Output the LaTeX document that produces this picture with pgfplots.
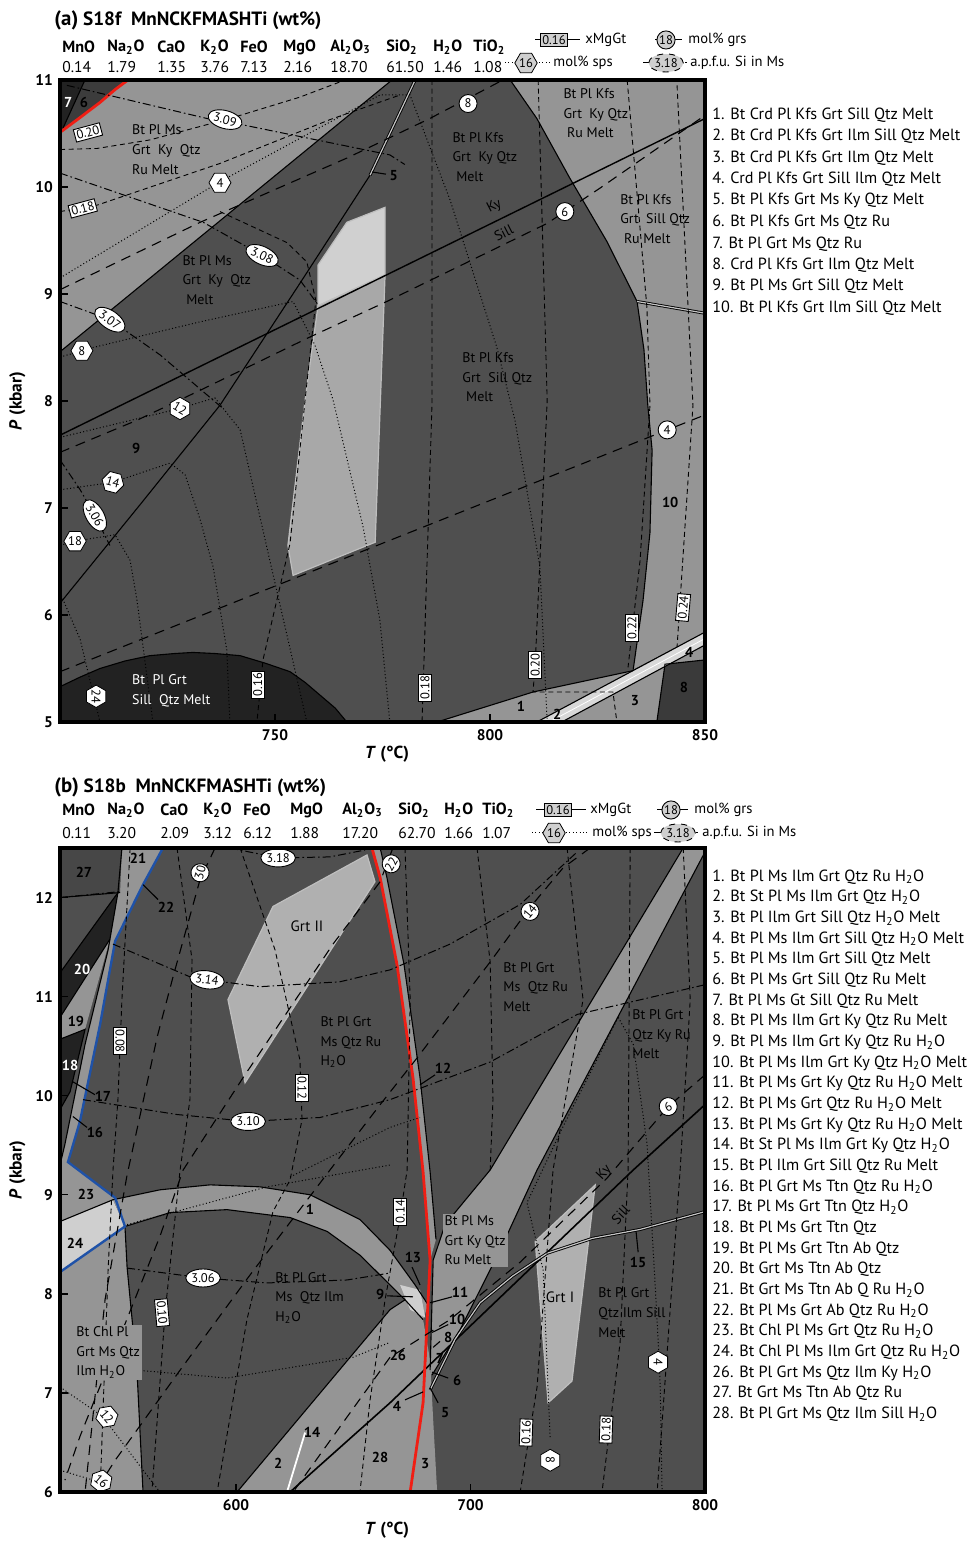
\documentclass[border=0pt]{standalone}
\usepackage{pgfplots}
\pgfplotsset{compat=1.18}
\usepackage{fontspec}
\setmainfont{PT Sans}
\usetikzlibrary{shapes.geometric}
\definecolor{bgd}{HTML}{4F4F4F}
\definecolor{lg}{HTML}{959595}
\definecolor{dk}{HTML}{222222}
\definecolor{r6}{HTML}{3C3C3C}
\definecolor{r8}{HTML}{3A3A3A}
\definecolor{bandc}{HTML}{D8D8D8}
\definecolor{pl1}{HTML}{D0D0D0}
\definecolor{pl2}{HTML}{A8A8A8}
\definecolor{pedge}{HTML}{BEBEBE}
\definecolor{vl}{HTML}{CFCFCF}
\definecolor{grt}{HTML}{B0B0B0}
\definecolor{r27}{HTML}{474747}
\definecolor{dblc}{HTML}{C4C4C4}
\definecolor{myblue}{HTML}{1F52A8}
\definecolor{myred}{HTML}{F01E14}
\tikzset{
 reg/.style={fill=#1, draw=none},
 bd/.style={black, line width=0.55pt},
 dbl/.style={draw=black, line width=0.45pt, double=dblc, double distance=0.6pt},
 xl/.style={black, line width=0.45pt, dash pattern=on 2.5pt off 1.8pt},
 gl/.style={black, line width=0.55pt, dash pattern=on 5pt off 3.5pt},
 sl/.style={black, line width=0.5pt, dash pattern=on 0.5pt off 1.2pt},
 ml/.style={black, line width=0.5pt, dash pattern=on 4pt off 1.5pt on 0.8pt off 1.5pt},
 xmg/.style={draw=black, fill=white, rectangle, inner sep=0.9pt, line width=0.45pt, font=\fontsize{6.3}{6.3}\selectfont},
 grs/.style={draw=black, fill=white, circle, inner sep=0.3pt, minimum size=9pt, line width=0.45pt, font=\fontsize{6.3}{6.3}\selectfont},
 sps/.style={draw=black, fill=white, regular polygon, regular polygon sides=6, inner sep=0pt, minimum size=11pt, line width=0.4pt, font=\fontsize{6.3}{6.3}\selectfont},
 msi/.style={draw=black, fill=white, ellipse, inner sep=0.3pt, minimum width=17pt, minimum height=9pt, line width=0.45pt, font=\fontsize{6.3}{6.3}\selectfont},
 rl/.style={font=\fontsize{7}{9.8}\selectfont, align=left, anchor=west, inner sep=0pt},
 num/.style={font=\bfseries\fontsize{7.2}{8}\selectfont, inner sep=0pt},
 li/.style={anchor=west, inner sep=0pt, font=\fontsize{8.1}{9}\selectfont},
 hd/.style={anchor=west, inner sep=0pt, font=\fontsize{7.8}{8}\selectfont},
 lt/.style={anchor=west, inner sep=0pt, font=\fontsize{7.3}{8}\selectfont},
}
\pgfplotsset{pd/.style={scale only axis, width=322.5pt, tick align=inside, major tick length=4pt,
 tick style={black, line width=0.7pt}, axis line style={line width=1.6pt},
 axis background/.style={fill=bgd}, clip mode=individual, axis on top, tick pos=left,
 /pgf/number format/assume math mode=true,
 tick label style={font=\bfseries\fontsize{7.7}{8}\selectfont},
 label style={font=\bfseries\fontsize{8.7}{9}\selectfont}}}
\begin{document}
\begin{tikzpicture}
\path[use as bounding box] (0,0) rectangle (486.5pt,770.5pt);
%================ PANEL A
\begin{axis}[pd, at={(30pt,409.5pt)}, anchor=south west, height=321pt,
 xmin=700, xmax=850, ymin=5, ymax=11, xtick={750,800,850}, ytick={5,6,7,8,9,10,11},
 xlabel={\textit{T} (°C)}, ylabel={\textit{P} (kbar)},
 xlabel style={at={(axis description cs:0.507,-0.05)}, anchor=center},
 ylabel style={at={(axis description cs:-0.066,0.5)}, anchor=center}]
% fills
\addplot[reg=lg] coordinates {(700,8.46) (777.2,11) (715.8,11) (712.8,10.91) (709.3,10.79) (704.7,10.65) (700,10.51)} -- cycle;
\addplot[reg=r6] coordinates {(700,10.51) (704.7,10.65) (709.3,10.79) (712.8,10.91) (715.8,11) (700,11)} -- cycle;
\addplot[reg=dk] coordinates {(700,11) (705.8,11) (700.7,10.55) (700,10.53)} -- cycle;
\addplot[reg=lg] coordinates {(804.7,11) (810.9,10.64) (818.6,10.08) (827.2,9.49) (834.2,8.93) (850,8.82) (850,11)} -- cycle;
\addplot[reg=lg] coordinates {(834.2,8.93) (850,8.82) (850,5.84) (833.3,5.49) (835.6,6.14) (837.2,6.77) (837.7,7.54) (836.7,7.96) (835.8,8.48)} -- cycle;
\addplot[reg=lg] coordinates {(787.7,5) (810.0,5.28) (833.3,5.48) (810.9,5)} -- cycle;
\addplot[reg=lg] coordinates {(816.7,5) (840.7,5.54) (838.8,5)} -- cycle;
\addplot[reg=lg] coordinates {(840.7,5.54) (850,5.72) (850,5.58)} -- cycle;
\addplot[reg=r8] coordinates {(840.7,5.54) (850,5.58) (850,5) (838.8,5)} -- cycle;
\addplot[reg=bandc] coordinates {(810.9,5) (850,5.84) (850,5.72) (816.7,5)} -- cycle;
\addplot[fill=dk, draw=black, line width=0.55pt] coordinates {(700,5.33) (704.7,5.42) (709.3,5.50) (715.1,5.57) (720.9,5.62) (726.7,5.64) (730.9,5.65) (736.0,5.64) (741.9,5.62) (747.7,5.55) (753.5,5.47) (757.0,5.37) (760.5,5.25) (764.0,5.13) (766.7,5) (700,5)} -- cycle;
\addplot[fill=pl1, draw=pedge, line width=0.6pt] coordinates {(760.0,9.27) (766.7,9.67) (775.6,9.81) (775.6,9.18) (760.0,8.89)} -- cycle;
\addplot[fill=pl2, draw=pedge, line width=0.6pt] coordinates {(760.0,8.89) (775.6,9.18) (773.3,6.68) (754.2,6.37) (753.0,6.65) (757.0,8.01)} -- cycle;
% boundaries
\addplot[bd] coordinates {(700,8.46) (777.2,11)};
\addplot[bd] coordinates {(700.7,10.55) (705.8,11)};
\addplot[myred, line width=1.4pt] coordinates {(700,10.51) (704.7,10.65) (709.3,10.79) (712.8,10.91) (715.8,11)};
\addplot[bd] coordinates {(804.7,11) (810.9,10.64) (818.6,10.08) (827.2,9.49) (834.2,8.93) (835.8,8.48) (836.7,7.96) (837.7,7.54) (837.2,6.77) (835.6,6.14) (833.3,5.49)};
\addplot[dbl] coordinates {(834.2,8.93) (850,8.82)};
\addplot[bd] coordinates {(787.7,5) (810.0,5.28) (833.3,5.48)};
\addplot[bd] coordinates {(810.9,5) (850,5.84)};
\addplot[bd] coordinates {(816.7,5) (850,5.72)};
\addplot[white, line width=0.4pt] coordinates {(813.8,5) (850,5.78)};
\addplot[bd] coordinates {(838.8,5) (840.7,5.54) (850,5.58)};
\addplot[dbl] coordinates {(782.6,11) (772.1,10.11)};
\addplot[bd] coordinates {(772.1,10.11) (755.8,9.10) (737.2,7.96) (718.6,7.03) (700,6.11)};
\addplot[bd, line width=0.7pt] coordinates {(700,7.68) (850,10.64)};
\addplot[bd] coordinates {(772.6,10.14) (775.8,10.12)};
% Ms Si
\addplot[ml] coordinates {(701.6,10.95) (734.2,10.64) (742.6,10.58) (776.7,10.30) (780.2,10.21)};
\addplot[ml] coordinates {(700,10.13) (733.3,9.67) (747.0,9.36) (755.8,9.13) (760.0,8.90)};
\addplot[ml] coordinates {(700,8.93) (711.6,8.76) (723.3,8.43) (737.9,7.93)};
\addplot[ml] coordinates {(700,7.45) (704.7,7.17) (708.1,6.93) (711.6,6.65)};
% sps
\addplot[sl] coordinates {(700,9.15) (737.2,10.05) (774.4,10.86) (781.4,10.86) (790.7,9.88) (801.6,8.50) (805.8,7.82) (811.6,6.45) (813.3,5)};
\addplot[sl] coordinates {(700,8.41) (707.7,8.50) (732.6,8.74) (754.2,8.93) (759.3,8.52) (763.5,8.01) (770.5,6.82) (774.4,5.95) (776.7,5)};
\addplot[sl] coordinates {(700,7.66) (727.9,7.93) (736.0,8.03) (741.9,7.73) (748.8,6.51) (757.4,5)};
\addplot[sl] coordinates {(700,7.17) (712.3,7.24) (725.6,7.42) (729.1,7.31) (732.6,6.89) (735.6,6.45) (738.8,5.67) (739.5,5)};
\addplot[sl] coordinates {(700,6.65) (703.5,6.69) (712.8,6.75) (716.3,6.51) (717.9,6.14) (721.6,5)};
\addplot[sl] coordinates {(700,6.21) (704.7,5.77) (709.3,5)};
% grs
\addplot[gl] coordinates {(700,9.04) (732.6,9.67) (766.7,10.27) (786.0,10.64) (803.0,11)};
\addplot[gl] coordinates {(700,7.52) (717.9,7.82) (732.6,8.10) (757.7,8.59) (776.0,8.93) (813.3,9.66) (825.6,9.99) (850,10.67)};
\addplot[gl] coordinates {(700,5.47) (850,7.87)};
% xMgGt
\addplot[xl] coordinates {(700,10.35) (708.6,10.36) (720.9,10.44) (739.5,10.64) (755.8,10.84) (766.3,11)};
\addplot[xl] coordinates {(700,9.77) (708.6,9.83) (737.2,10.22) (762.8,10.63) (779.1,10.86)};
\addplot[xl] coordinates {(737.2,9.77) (752.8,9.48) (757.4,9.30) (759.5,8.94) (757.0,8.01) (753.5,6.67) (747.2,5.58) (745.8,5)};
\addplot[xl] coordinates {(786.5,11) (786.5,7.96) (784.2,5)};
\addplot[xl] coordinates {(811.2,11) (813.3,8.01) (810.5,5.53) (810,5.28) (828.6,5.28) (829.5,5)};
\addplot[xl] coordinates {(831.9,11) (836.5,8.87) (837.2,7.96) (834.9,6.51) (832.1,5.51)};
\addplot[xl] coordinates {(843.5,10.95) (847.2,7.96) (843.5,5.70)};
% isopleth labels
\node[msi, rotate=-15] at (axis cs:738.4,10.63) {3.09};
\node[msi, rotate=-25] at (axis cs:747.0,9.36) {3.08};
\node[msi, rotate=-35] at (axis cs:711.6,8.76) {3.07};
\node[msi, rotate=-60] at (axis cs:708.1,6.93) {3.06};
\node[xmg, rotate=15] at (axis cs:706.5,10.51) {0.20};
\node[xmg, rotate=15] at (axis cs:705.3,9.80) {0.18};
\node[xmg, rotate=90] at (axis cs:746.0,5.35) {0.16};
\node[xmg, rotate=90] at (axis cs:784.9,5.32) {0.18};
\node[xmg, rotate=90] at (axis cs:810.5,5.53) {0.20};
\node[xmg, rotate=90] at (axis cs:833.0,5.88) {0.22};
\node[xmg, rotate=85] at (axis cs:844.9,6.07) {0.24};
\node[grs] at (axis cs:794.9,10.78) {8};
\node[grs] at (axis cs:817.4,9.77) {6};
\node[grs] at (axis cs:841.2,7.73) {4};
\node[sps] at (axis cs:737.2,10.04) {4};
\node[sps] at (axis cs:705.1,8.47) {8};
\node[sps, rotate=-30] at (axis cs:727.9,7.93) {12};
\node[sps, rotate=-15] at (axis cs:712.3,7.24) {14};
\node[sps] at (axis cs:703.5,6.69) {18};
\node[sps, rotate=-90] at (axis cs:708.4,5.24) {24};
% region labels
\node[rl] at (axis cs:716.7,10.35) {Bt Pl Ms\\Grt\ \ Ky\ \ Qtz\\Ru Melt};
\node[rl] at (axis cs:728.4,9.13) {Bt Pl Ms\\Grt\ \ Ky\ \ Qtz\\\ Melt};
\node[rl] at (axis cs:791.2,10.28) {Bt Pl Kfs\\Grt\ \ Ky Qtz\\\ Melt};
\node[rl] at (axis cs:817.0,10.69) {Bt Pl Kfs\\Grt\ \ Ky Qtz\\\ Ru Melt};
\node[rl] at (axis cs:830.2,9.70) {Bt Pl Kfs\\Grt\ \ Sill Qtz\\\ Ru Melt};
\node[rl] at (axis cs:793.5,8.22) {Bt Pl Kfs\\Grt\ \ Sill Qtz\\\ Melt};
\node[rl, text=white] at (axis cs:716.7,5.29) {Bt\ \ Pl Grt\\Sill\ \ Qtz Melt};
\node[font=\fontsize{7}{8}\selectfont, rotate=27, inner sep=0pt] at (axis cs:801.0,9.82) {Ky};
\node[font=\fontsize{7}{8}\selectfont, rotate=27, inner sep=0pt] at (axis cs:803.2,9.57) {Sill};
\node[num, text=white] at (axis cs:701.9,10.79) {7};
\node[num] at (axis cs:705.6,10.79) {6};
\node[num] at (axis cs:777.6,10.11) {5};
\node[num] at (axis cs:717.7,7.56) {9};
\node[num] at (axis cs:841.9,7.05) {10};
\node[num] at (axis cs:807.2,5.15) {1};
\node[num] at (axis cs:815.6,5.07) {2};
\node[num] at (axis cs:833.7,5.20) {3};
\node[num] at (axis cs:846.3,5.65) {4};
\node[num] at (axis cs:845.1,5.32) {8};
\end{axis}
%================ PANEL B
\begin{axis}[pd, at={(30pt,24.5pt)}, anchor=south west, height=322pt,
 xmin=525, xmax=800, ymin=6, ymax=12.5, xtick={600,700,800}, ytick={6,7,8,9,10,11,12},
 xlabel={\textit{T} (°C)}, ylabel={\textit{P} (kbar)},
 xlabel style={at={(axis description cs:0.507,-0.059)}, anchor=center},
 ylabel style={at={(axis description cs:-0.066,0.5)}, anchor=center}]
% fills
\addplot[reg=lg] coordinates {(551.4,12.5) (549.7,12.05) (545.5,11.47) (535.7,10.52) (527.1,9.51) (525,9.30) (528.4,9.33) (533.5,9.74) (542.1,10.72) (548.5,11.56) (560.4,12.13) (568.9,12.5)} -- cycle;
\addplot[reg=r27] coordinates {(525,12.5) (551.4,12.5) (550.6,12.05) (525,12.0)} -- cycle;
\addplot[reg=dk] coordinates {(525,11.24) (549.7,12.05) (546.3,11.58) (525,10.79)} -- cycle;
\addplot[reg=lg] coordinates {(525,10.79) (546.3,11.58) (535.7,10.67) (525,10.57)} -- cycle;
\addplot[reg=dk] coordinates {(525,10.57) (535.7,10.67) (529.3,10.04) (525,9.86)} -- cycle;
\addplot[reg=lg] coordinates {(525,9.35) (528.4,9.33) (548.5,8.97) (547.6,8.95) (525,8.73)} -- cycle;
\addplot[reg=vl] coordinates {(525,8.73) (547.6,8.95) (552.7,8.68) (525,8.22)} -- cycle;
\addplot[reg=lg] coordinates {(525,8.22) (552.7,8.68) (553.6,8.27) (557.8,7.23) (560.4,6.0) (525,6)} -- cycle;
\addplot[reg=lg] coordinates {(547.6,8.95) (567.6,9.05) (589.0,9.10) (610.3,9.08) (631.6,9.00) (652.9,8.75) (665.7,8.44) (676.4,8.09) (681.9,7.89) (679.8,7.74) (672.1,7.94) (663.6,8.14) (652.9,8.39) (638.9,8.63) (623.1,8.77) (596.2,8.85) (571.9,8.82) (552.7,8.68)} -- cycle;
\addplot[reg=lg] coordinates {(600.5,6.0) (665.7,7.84) (672.1,7.94) (679.8,7.74) (682.8,7.33) (684.1,6.73) (685.8,6.0)} -- cycle;
\addplot[reg=lg] coordinates {(708.4,9.25) (790.7,12.5) (800,12.5) (800,12.46) (728.4,9.25) (712.6,8.44) (695.6,7.64) (683.6,7.18) (682.8,7.23) (684.1,8.34) (689.2,8.70)} -- cycle;
\addplot[reg=lg] coordinates {(658.0,12.5) (661.5,12.20) (668.7,11.32) (675.5,10.18) (679.8,9.23) (682.8,8.34) (685.3,8.55) (682.8,9.23) (678.5,10.18) (671.7,11.32) (664.4,12.20) (661.5,12.5)} -- cycle;
\addplot[reg=vl] coordinates {(670.0,8.09) (678.5,8.04) (680.7,7.76) (674.3,7.84)} -- cycle;
\addplot[fill=grt, draw=pedge, line width=0.6pt] coordinates {(615.8,11.91) (655.9,12.43) (659.3,12.16) (603.9,10.13) (596.6,10.97)} -- cycle;
\addplot[fill=grt, draw=pedge, line width=0.6pt] coordinates {(727.6,8.53) (753.2,9.10) (743.3,7.12) (733.1,6.90)} -- cycle;
% boundaries
\addplot[bd] coordinates {(551.4,12.5) (549.7,12.05) (545.5,11.47) (535.7,10.52) (527.1,9.51) (525,9.30)};
\addplot[bd] coordinates {(525,12.0) (550.6,12.05)};
\addplot[bd] coordinates {(525,11.24) (549.7,12.05)};
\addplot[bd] coordinates {(525,10.79) (546.3,11.58)};
\addplot[bd] coordinates {(525,10.57) (535.7,10.67) (529.3,10.04) (525,9.86)};
\addplot[bd] coordinates {(525,8.73) (547.6,8.95) (567.6,9.05) (589.0,9.10) (610.3,9.08) (631.6,9.00) (652.9,8.75) (665.7,8.44) (676.4,8.09) (681.9,7.89)};
\addplot[bd] coordinates {(552.7,8.68) (571.9,8.82) (596.2,8.85) (623.1,8.77) (638.9,8.63) (652.9,8.39) (663.6,8.14) (672.1,7.94) (679.8,7.74)};
\addplot[bd] coordinates {(552.7,8.68) (553.6,8.27) (557.8,7.23) (560.4,6.0)};
\addplot[bd] coordinates {(600.5,6.0) (665.7,7.84) (672.1,7.94)};
\addplot[bd] coordinates {(790.7,12.5) (708.4,9.25) (689.2,8.70) (684.1,8.34) (682.8,7.23)};
\addplot[bd] coordinates {(800,12.46) (728.4,9.25) (712.6,8.44) (695.6,7.64) (683.6,7.18)};
\addplot[bd] coordinates {(661.5,12.5) (664.4,12.20) (671.7,11.32) (678.5,10.18) (682.8,9.23) (685.3,8.55)};
\addplot[white, line width=0.9pt] coordinates {(621.8,6.0) (629.5,6.60)};
\addplot[bd, line width=0.8pt] coordinates {(623.1,6.0) (665.7,6.90) (769.4,9.25) (800,9.91)};
\addplot[dbl] coordinates {(682.8,7.03) (693.4,7.54) (704.1,7.91) (718,8.18) (732.7,8.41) (752,8.56) (772.3,8.65) (800,8.83)};
\addplot[myblue, line width=1.2pt] coordinates {(568.9,12.5) (560.4,12.13) (548.5,11.56) (542.1,10.72) (533.5,9.74) (528.4,9.33) (548.5,8.97) (552.7,8.68) (525,8.22)};
\addplot[myred, line width=1.4pt] coordinates {(658.0,12.5) (661.5,12.20) (668.7,11.32) (675.5,10.18) (679.8,9.23) (682.8,8.34) (681.9,7.91) (679.8,6.90) (674.3,6.0)};
% Ms Si
\addplot[ml] coordinates {(597.5,12.5) (618.0,12.40) (640.1,12.41) (655.1,12.48)};
\addplot[ml] coordinates {(547.6,11.53) (580.4,11.20) (587.7,11.17) (610.3,11.10) (644.4,11.15) (665.7,11.27) (691.3,11.53) (721.2,11.93) (745.5,12.46)};
\addplot[ml] coordinates {(534.8,9.96) (574.9,9.81) (605.2,9.74) (635.9,9.78) (665.7,9.96) (708.4,10.34) (745.5,10.82) (800,11.12)};
\addplot[ml] coordinates {(553.6,8.26) (586.0,8.16) (613.3,8.11) (647.4,8.14) (665.7,8.21)};
\addplot[ml] coordinates {(525,12.0) (550.6,12.06)};
% grs
\addplot[gl] coordinates {(591.1,12.5) (584.7,12.18) (573.2,11.20) (566.4,10.59) (553.6,9.20) (544.2,7.94) (535.7,6.0)};
\addplot[gl] coordinates {(666.6,12.48) (661.5,12.16) (641.4,11.53) (603.0,10.18) (577.5,9.25) (567.6,8.58) (550.6,7.57) (533.5,6.56) (527.1,6.12)};
\addplot[gl] coordinates {(751.0,12.5) (739.5,12.30) (725.4,11.90) (708.4,11.35) (677.2,10.38) (661.5,9.91) (640.1,9.25) (606.0,8.19) (576.2,7.23) (548.5,6.32) (539.9,6.0)};
\addplot[gl] coordinates {(800,10.21) (784.3,9.89) (758.3,9.17) (721.2,8.32) (691.3,7.74) (665.7,7.36) (624.4,6.0)};
% xMgGt
\addplot[xl] coordinates {(554.9,12.5) (551.4,10.97) (549.7,9.96) (547.6,9.25) (545.5,8.24) (542.1,6.0)};
\addplot[xl] coordinates {(574.9,12.5) (581.3,11.37) (580.4,9.96) (576.2,9.25) (569.8,7.81) (564.2,6.0)};
\addplot[xl] coordinates {(601.8,12.5) (616.7,11.47) (627.3,10.36) (628.2,9.76) (623.1,9.15) (615.8,8.83) (604.7,7.74) (592.0,6.0)};
\addplot[xl] coordinates {(672.1,12.5) (674.3,10.97) (673.0,9.25) (670.0,8.78) (663.6,7.94) (657.2,6.93) (652.9,6.0)};
\addplot[xl] coordinates {(702.8,12.5) (708.4,11.35) (709.6,9.96) (708.4,9.25)};
\addplot[xl] coordinates {(741.2,12.5) (748.0,10.97) (735.2,9.25) (728.4,7.06) (721.2,6.0)};
\addplot[xl] coordinates {(768.1,12.5) (767.2,9.25) (763.8,7.51) (756.1,6.0)};
\addplot[xl] coordinates {(790.7,12.5) (793.7,10.97) (789.4,9.25) (779.6,6.0)};
% sps
\addplot[sl] coordinates {(525,7.06) (543.3,6.76) (560.4,6.22) (567.6,6.0)};
\addplot[sl] coordinates {(525,6.22) (542.1,6.10) (546.3,6.0)};
\addplot[sl] coordinates {(557.8,7.23) (596.2,7.15) (649.9,7.36) (665.7,7.51)};
\addplot[sl] coordinates {(553.6,8.70) (577.5,8.85) (613.3,9.08) (665.7,9.30)};
\addplot[sl] coordinates {(763.0,10.79) (739.5,9.69) (724.1,8.92) (731.0,8.24) (734.0,6.53)};
\addplot[sl] coordinates {(763.0,10.79) (769.4,10.52) (775.3,9.51) (778.7,8.11) (780.0,7.54) (780.9,7.08) (781.7,6.0)};
\addplot[sl] coordinates {(623.1,9.18) (665.7,9.68) (678.5,9.78)};
% leaders
\addplot[bd] coordinates {(560.4,12.13) (566.8,11.98)};
\addplot[bd] coordinates {(530.5,10.14) (539.9,10.01)};
\addplot[bd] coordinates {(530.5,9.79) (536.5,9.68)};
\addplot[bd] coordinates {(664.5,7.98) (675.5,7.97)};
\addplot[bd] coordinates {(675.1,8.27) (678.5,8.09)};
\addplot[bd] coordinates {(692.2,7.97) (682.8,7.91)};
\addplot[bd] coordinates {(690.5,7.69) (683.6,7.61)};
\addplot[bd] coordinates {(687.0,7.52) (684.1,7.46)};
\addplot[bd] coordinates {(690.5,7.15) (683.6,7.21)};
\addplot[bd] coordinates {(672.1,6.93) (679.8,7.01)};
\addplot[bd] coordinates {(686.2,6.90) (682.8,7.05)};
\addplot[bd] coordinates {(684.9,10.21) (678.5,10.11)};
\addplot[bd] coordinates {(771.5,8.42) (770.6,8.63)};
% isopleth labels
\node[msi] at (axis cs:618.0,12.40) {3.18};
\node[msi, rotate=-8] at (axis cs:587.7,11.17) {3.14};
\node[msi] at (axis cs:605.2,9.74) {3.10};
\node[msi] at (axis cs:586.0,8.16) {3.06};
\node[grs, rotate=75] at (axis cs:584.7,12.25) {30};
\node[grs, rotate=60] at (axis cs:666.2,12.34) {22};
\node[grs, rotate=50] at (axis cs:725.4,11.86) {14};
\node[grs, rotate=30] at (axis cs:784.3,9.89) {6};
\node[xmg, rotate=-90] at (axis cs:550.6,10.55) {0.08};
\node[xmg, rotate=-90] at (axis cs:628.2,10.08) {0.12};
\node[xmg, rotate=90] at (axis cs:670.0,8.83) {0.14};
\node[xmg, rotate=-85] at (axis cs:568.5,7.81) {0.10};
\node[xmg, rotate=88] at (axis cs:723.7,6.60) {0.16};
\node[xmg, rotate=88] at (axis cs:757.8,6.63) {0.18};
\node[sps, rotate=-50] at (axis cs:545.0,6.76) {12};
\node[sps, rotate=-40] at (axis cs:542.6,6.11) {16};
\node[sps, rotate=-90] at (axis cs:734.0,6.32) {8};
\node[sps, rotate=-90] at (axis cs:780.0,7.31) {4};
% region labels
\node[font=\fontsize{7.5}{8}\selectfont, inner sep=0pt] at (axis cs:630.3,11.71) {Grt II};
\node[font=\fontsize{7.5}{8}\selectfont, inner sep=0pt] at (axis cs:738.2,7.97) {Grt I};
\node[rl] at (axis cs:635.9,10.54) {Bt Pl Grt\\Ms Qtz Ru\\H\textsubscript{2}O};
\node[rl] at (axis cs:713.9,11.10) {Bt Pl Grt\\Ms\ \ Qtz Ru\\Melt};
\node[rl] at (axis cs:768.9,10.62) {Bt Pl Grt\\Qtz Ky Ru\\Melt};
\node[rl] at (axis cs:616.7,7.96) {Bt Pl Grt\\Ms\ \ Qtz Ilm\\H\textsubscript{2}O};
\node[rl, fill=lg, inner sep=1pt] at (axis cs:531.0,7.41) {Bt Chl Pl\\Grt Ms Qtz\\Ilm H\textsubscript{2}O};
\node[rl, fill=lg, inner sep=1pt] at (axis cs:688.0,8.54) {Bt Pl Ms\\Grt Ky Qtz\\Ru Melt};
\node[rl] at (axis cs:754.4,7.81) {Bt Pl Grt\\Qtz Ilm Sill\\Melt};
\node[font=\fontsize{7}{8}\selectfont, rotate=47, inner sep=0pt] at (axis cs:757.0,9.22) {Ky};
\node[font=\fontsize{7}{8}\selectfont, rotate=47, inner sep=0pt] at (axis cs:764.0,8.80) {Sill};
\node[num] at (axis cs:535.2,12.25) {27};
\node[num] at (axis cs:558.3,12.40) {21};
\node[num] at (axis cs:570.2,11.90) {22};
\node[num, text=white] at (axis cs:534.4,11.27) {20};
\node[num] at (axis cs:531.8,10.75) {19};
\node[num, text=white] at (axis cs:529.3,10.31) {18};
\node[num] at (axis cs:543.3,9.99) {17};
\node[num] at (axis cs:539.9,9.63) {16};
\node[num] at (axis cs:536.1,9.00) {23};
\node[num] at (axis cs:531.4,8.51) {24};
\node[num] at (axis cs:631.6,8.85) {1};
\node[num] at (axis cs:661.5,7.99) {9};
\node[num] at (axis cs:675.5,8.37) {13};
\node[num] at (axis cs:695.6,8.01) {11};
\node[num] at (axis cs:694.3,7.74) {10};
\node[num] at (axis cs:690.5,7.56) {8};
\node[num] at (axis cs:687.0,7.35) {7};
\node[num] at (axis cs:669.1,7.38) {26};
\node[num] at (axis cs:694.3,7.13) {6};
\node[num] at (axis cs:668.7,6.86) {4};
\node[num] at (axis cs:689.2,6.80) {5};
\node[num] at (axis cs:661.5,6.35) {28};
\node[num] at (axis cs:680.7,6.29) {3};
\node[num] at (axis cs:618.0,6.29) {2};
\node[num] at (axis cs:632.5,6.60) {14};
\node[num] at (axis cs:688.3,10.28) {12};
\node[num] at (axis cs:771.5,8.32) {15};
\end{axis}
%================ HEADERS
\node[anchor=west, inner sep=0pt, font=\bfseries\fontsize{9.6}{10}\selectfont] at (27pt,760.5pt) {{\fontsize{10.4}{10}\selectfont(a)} S18f\ \ MnNCKFMASHTi (wt\%)};
\node[anchor=west, inner sep=0pt, font=\bfseries\fontsize{9.6}{10}\selectfont] at (27pt,377pt) {{\fontsize{10.4}{10}\selectfont(b)} S18b\ \ MnNCKFMASHTi (wt\%)};
\foreach \x/\t/\v in {31/MnO/0.14, 53.5/Na\textsubscript{2}O/1.79, 78.5/CaO/1.35, 100/K\textsubscript{2}O/3.76, 120/FeO/7.13, 141.5/MgO/2.16, 165/Al\textsubscript{2}O\textsubscript{3}/18.70, 193/SiO\textsubscript{2}/61.50, 216.5/H\textsubscript{2}O/1.46, 236.5/TiO\textsubscript{2}/1.08}{
 \node[hd, font=\bfseries\fontsize{8.1}{8}\selectfont] at (\x pt,747pt) {\t};
 \node[hd] at (\x pt,737pt) {\v};}
\foreach \x/\t/\v in {31/MnO/0.11, 53.5/Na\textsubscript{2}O/3.20, 80/CaO/2.09, 101.5/K\textsubscript{2}O/3.12, 121.5/FeO/6.12, 145/MgO/1.88, 171/Al\textsubscript{2}O\textsubscript{3}/17.20, 199/SiO\textsubscript{2}/62.70, 222/H\textsubscript{2}O/1.66, 241/TiO\textsubscript{2}/1.07}{
 \node[hd, font=\bfseries\fontsize{8.1}{8}\selectfont] at (\x pt,365.5pt) {\t};
 \node[hd] at (\x pt,354pt) {\v};}
% legends for isopleths (a)
\draw[black, line width=0.5pt] (267.5pt,750.5pt) -- (290pt,750.5pt); \node[xmg, fill=vl] at (277pt,750.5pt) {0.16}; \node[lt] at (292.5pt,750.5pt) {xMgGt};
\draw[black, line width=0.5pt] (327.5pt,750.5pt) -- (341pt,750.5pt); \node[grs, fill=vl] at (333pt,750.5pt) {18}; \node[lt] at (344pt,750.5pt) {mol\% grs};
\draw[sl] (252.5pt,739pt) -- (275pt,739pt); \node[sps, fill=vl] at (263pt,739pt) {16}; \node[lt] at (276.5pt,739pt) {mol\% sps};
\draw[ml] (321.5pt,739pt) -- (344pt,739pt); \node[msi, fill=vl, dashed] at (333pt,739pt) {3.18}; \node[lt] at (345pt,739pt) {a.p.f.u. Si in Ms};
% legends for isopleths (b)
\draw[black, line width=0.5pt] (268pt,365.5pt) -- (293pt,365.5pt); \node[xmg, fill=vl] at (279pt,365.5pt) {0.16}; \node[lt] at (295pt,365.5pt) {xMgGt};
\draw[black, line width=0.5pt] (328.5pt,365.5pt) -- (344pt,365.5pt); \node[grs, fill=vl] at (335.5pt,365.5pt) {18}; \node[lt] at (347pt,365.5pt) {mol\% grs};
\draw[sl] (266pt,354pt) -- (294pt,354pt); \node[sps, fill=vl] at (277pt,354pt) {16}; \node[lt] at (296pt,354pt) {mol\% sps};
\draw[ml] (327pt,354pt) -- (350pt,354pt); \node[msi, fill=vl, dashed] at (339pt,354pt) {3.18}; \node[lt] at (351pt,354pt) {a.p.f.u. Si in Ms};
% reaction lists
\node[li] at (356pt,713pt) {1. Bt Crd Pl Kfs Grt Sill Qtz Melt};
\node[li] at (356pt,702.3pt) {2. Bt Crd Pl Kfs Grt Ilm Sill Qtz Melt};
\node[li] at (356pt,691.55pt) {3. Bt Crd Pl Kfs Grt Ilm Qtz Melt};
\node[li] at (356pt,680.8pt) {4. Crd Pl Kfs Grt Sill Ilm Qtz Melt};
\node[li] at (356pt,670.1pt) {5. Bt Pl Kfs Grt Ms Ky Qtz Melt};
\node[li] at (356pt,659.4pt) {6. Bt Pl Kfs Grt Ms Qtz Ru};
\node[li] at (356pt,648.6pt) {7. Bt Pl Grt Ms Qtz Ru};
\node[li] at (356pt,637.9pt) {8. Crd Pl Kfs Grt Ilm Qtz Melt};
\node[li] at (356pt,627.2pt) {9. Bt Pl Ms Grt Sill Qtz Melt};
\node[li] at (356pt,616.5pt) {10. Bt Pl Kfs Grt Ilm Sill Qtz Melt};
\node[li] at (356pt,332pt) {1. Bt Pl Ms Ilm Grt Qtz Ru H\textsubscript{2}O};
\node[li] at (356pt,321.67pt) {2. Bt St Pl Ms Ilm Grt Qtz H\textsubscript{2}O};
\node[li] at (356pt,311.33pt) {3. Bt Pl Ilm Grt Sill Qtz H\textsubscript{2}O Melt};
\node[li] at (356pt,301pt) {4. Bt Pl Ms Ilm Grt Sill Qtz H\textsubscript{2}O Melt};
\node[li] at (356pt,290.67pt) {5. Bt Pl Ms Ilm Grt Sill Qtz Melt};
\node[li] at (356pt,280.33pt) {6. Bt Pl Ms Grt Sill Qtz Ru Melt};
\node[li] at (356pt,270pt) {7. Bt Pl Ms Gt Sill Qtz Ru Melt};
\node[li] at (356pt,259.67pt) {8. Bt Pl Ms Ilm Grt Ky Qtz Ru Melt};
\node[li] at (356pt,249.33pt) {9. Bt Pl Ms Ilm Grt Ky Qtz Ru H\textsubscript{2}O};
\node[li] at (356pt,239pt) {10. Bt Pl Ms Ilm Grt Ky Qtz H\textsubscript{2}O Melt};
\node[li] at (356pt,228.67pt) {11. Bt Pl Ms Grt Ky Qtz Ru H\textsubscript{2}O Melt};
\node[li] at (356pt,218.33pt) {12. Bt Pl Ms Grt Qtz Ru H\textsubscript{2}O Melt};
\node[li] at (356pt,208pt) {13. Bt Pl Ms Grt Ky Qtz Ru H\textsubscript{2}O Melt};
\node[li] at (356pt,197.67pt) {14. Bt St Pl Ms Ilm Grt Ky Qtz H\textsubscript{2}O};
\node[li] at (356pt,187.33pt) {15. Bt Pl Ilm Grt Sill Qtz Ru Melt};
\node[li] at (356pt,177pt) {16. Bt Pl Grt Ms Ttn Qtz Ru H\textsubscript{2}O};
\node[li] at (356pt,166.67pt) {17. Bt Pl Ms Grt Ttn Qtz H\textsubscript{2}O};
\node[li] at (356pt,156.33pt) {18. Bt Pl Ms Grt Ttn Qtz};
\node[li] at (356pt,146pt) {19. Bt Pl Ms Grt Ttn Ab Qtz};
\node[li] at (356pt,135.67pt) {20. Bt Grt Ms Ttn Ab Qtz};
\node[li] at (356pt,125.33pt) {21. Bt Grt Ms Ttn Ab Q Ru H\textsubscript{2}O};
\node[li] at (356pt,115pt) {22. Bt Pl Ms Grt Ab Qtz Ru H\textsubscript{2}O};
\node[li] at (356pt,104.67pt) {23. Bt Chl Pl Ms Grt Qtz Ru H\textsubscript{2}O};
\node[li] at (356pt,94.33pt) {24. Bt Chl Pl Ms Ilm Grt Qtz Ru H\textsubscript{2}O};
\node[li] at (356pt,84pt) {26. Bt Pl Grt Ms Qtz Ilm Ky H\textsubscript{2}O};
\node[li] at (356pt,73.67pt) {27. Bt Grt Ms Ttn Ab Qtz Ru};
\node[li] at (356pt,63.33pt) {28. Bt Pl Grt Ms Qtz Ilm Sill H\textsubscript{2}O};
\end{tikzpicture}
\end{document}
